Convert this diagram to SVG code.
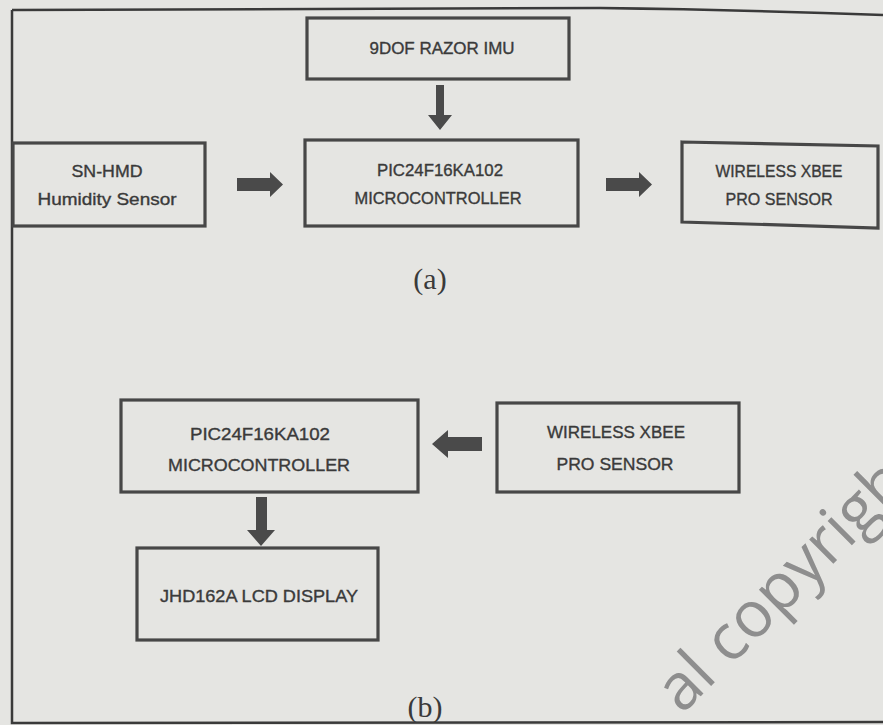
<svg xmlns="http://www.w3.org/2000/svg" width="883" height="725" viewBox="0 0 883 725">
<style>
.bx{fill:none;stroke:#474747;stroke-width:3.2}
.t{font-family:"Liberation Sans",Arial,sans-serif;font-size:16.5px;fill:#3a3a3a;stroke:#3a3a3a;stroke-width:0.35;text-anchor:middle}
.cap{font-family:"Liberation Serif","Times New Roman",serif;font-size:30px;fill:#3a3a3a;text-anchor:middle}
.ar{fill:#4a4a4a}
.wm{font-family:"Open Sans","Noto Sans",sans-serif;font-weight:400;font-size:64px;fill:#8e8e8e}
</style>
<rect width="883" height="725" fill="#e5e5e2"/>
<path d="M12,10 L600,8 Q750,10 883,15 M12,10 L12,723 L883,722" fill="none" stroke="#3a3a3a" stroke-width="2.5"/>

<g id="imu">
<rect class="bx" x="307" y="18" width="262" height="61"/>
<text class="t" x="442" y="54" textLength="145" lengthAdjust="spacingAndGlyphs">9DOF RAZOR IMU</text>
</g>
<g id="humidity">
<rect class="bx" x="13" y="143" width="192" height="83"/>
<text class="t" x="107" y="177" textLength="71" lengthAdjust="spacingAndGlyphs">SN-HMD</text>
<text class="t" x="107" y="205" textLength="139" lengthAdjust="spacingAndGlyphs">Humidity Sensor</text>
</g>
<g id="mcu-a">
<rect class="bx" x="305" y="140" width="273" height="86"/>
<text class="t" x="440" y="176" textLength="126" lengthAdjust="spacingAndGlyphs">PIC24F16KA102</text>
<text class="t" x="438" y="204" textLength="167" lengthAdjust="spacingAndGlyphs">MICROCONTROLLER</text>
</g>
<g id="xbee-a">
<polygon class="bx" points="682,142 878,146 878,228 682,222"/>
<text class="t" x="779" y="177" textLength="127" lengthAdjust="spacingAndGlyphs">WIRELESS XBEE</text>
<text class="t" x="779" y="205" textLength="107" lengthAdjust="spacingAndGlyphs">PRO SENSOR</text>
</g>
<text class="cap" x="430" y="289">(a)</text>

<g id="mcu-b">
<rect class="bx" x="121" y="400" width="297" height="92"/>
<text class="t" x="260" y="440" textLength="140" lengthAdjust="spacingAndGlyphs">PIC24F16KA102</text>
<text class="t" x="259" y="471" textLength="182" lengthAdjust="spacingAndGlyphs">MICROCONTROLLER</text>
</g>
<g id="xbee-b">
<rect class="bx" x="497" y="403" width="242" height="89"/>
<text class="t" x="616" y="438" textLength="138" lengthAdjust="spacingAndGlyphs">WIRELESS XBEE</text>
<text class="t" x="615" y="470" textLength="117" lengthAdjust="spacingAndGlyphs">PRO SENSOR</text>
</g>
<g id="lcd">
<rect class="bx" x="137" y="548" width="241" height="92"/>
<text class="t" x="259" y="602" textLength="198" lengthAdjust="spacingAndGlyphs">JHD162A LCD DISPLAY</text>
</g>
<text class="cap" x="425" y="717">(b)</text>

<g id="connectors">
<polygon class="ar" points="436,85 444,85 444,115 452,115 440,130 428,115 436,115"/>
<polygon class="ar" points="237,178 270,178 270,172 283,184.5 270,197 270,191 237,191"/>
<polygon class="ar" points="606,178 639,178 639,172 652,184.5 639,197 639,191 606,191"/>
<polygon class="ar" points="482,437 448,437 448,430 432,444 448,458 448,451 482,451"/>
<polygon class="ar" points="256,497 267,497 267,530 275,530 261,546 247,530 256,530"/>
</g>

<text class="wm" x="682" y="715" transform="rotate(-45 682 715)">al copyrigh</text>
</svg>
